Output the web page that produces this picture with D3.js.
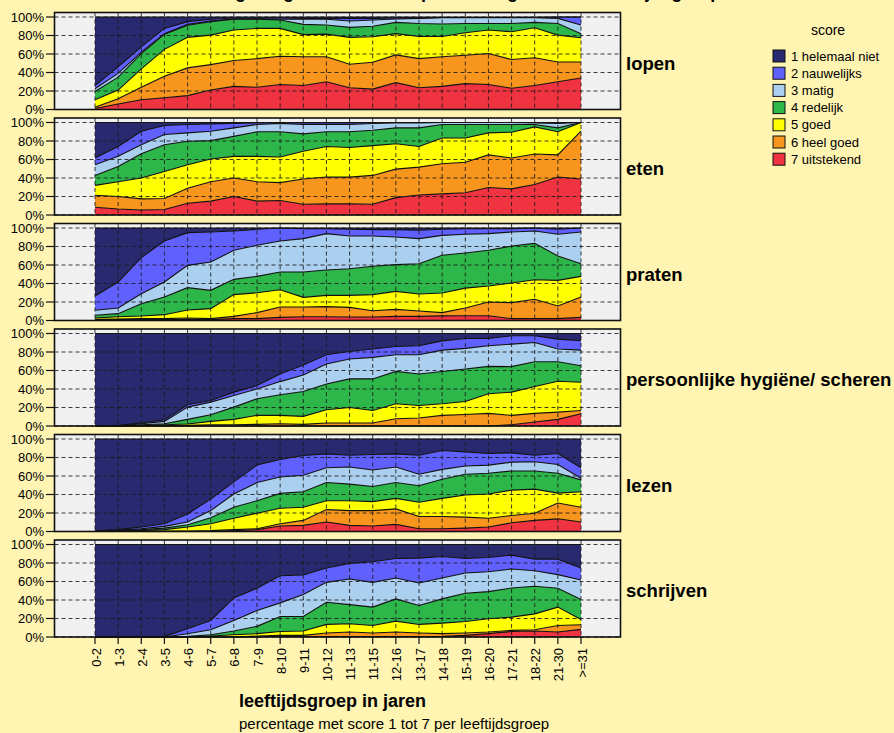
<!DOCTYPE html>
<meta charset="utf-8">
<style>
body { margin: 0; background: #fff4b2; }
text { font-family: "Liberation Sans", Arial, sans-serif; }
</style>
<body>
<svg width="894" height="733"></svg>
<script src="https://d3js.org/d3.v7.min.js"></script>
<script>

var ageGroups = ["0-2","1-3","2-4","3-5","4-6","5-7","6-8","7-9","8-10","9-11","10-12","11-13","11-15","12-16","13-17","14-18","15-19","16-20","17-21","18-22","21-30",">=31"];
var scoreLabels = ["1 helemaal niet","2 nauwelijks","3 matig","4 redelijk","5 goed","6 heel goed","7 uitstekend"];
var scoreColors = ["#29296f","#6060ff","#abcfee","#2db64a","#ffff00","#f7951d","#ef3340"];
var activities = ["lopen","eten","praten","persoonlijke hygiëne/ scheren","lezen","schrijven"];
var yTicks = [0,20,40,60,80,100];

// percentage per score (rows: score 1..7) per age group
var lopen = [
  [74,54,32.3,12.3,5,2.5,1,1,1,1.5,1.5,1.5,1.5,1,1,0.5,0.5,0.5,0.5,0.5,0,0],
  [3.5,7,5.7,5.7,3,1.9,1.2,1,1.5,1,1,2.9,1.8,1.2,0.5,0.2,0.2,0.2,0.2,0.2,1.5,8.7],
  [3,4,1.5,0.5,1,0.6,0.3,0.5,0.8,5.5,6.2,6.8,6.7,3.6,5.5,6.9,6.3,6.3,6.3,5.1,5.5,9.3],
  [9,14,16.5,16.5,13,14.6,11.5,9.8,9,11,9.8,10.8,11.4,12.2,14,13.4,10,7,9,5.8,12.6,4.5],
  [8,9.5,20,29,33,31.9,33,32.7,30.1,24,24.5,29,27.6,23,24,22,24.3,25.5,30,32.4,29,26.1],
  [1.5,5.5,13.5,23.3,30,27.5,28,31,30.6,31,27,25.5,29,30,31.5,32,30.7,33.5,31,30,21.4,17.4],
  [1,6,10.5,12.7,15,21,25,24,27,26,30,23.5,22,29,23.5,25,28,27,23,26,30,34]
];
var eten = [
  [38.4,26,9.4,3.3,2.2,1.5,1,0.4,0,0.4,0.4,0.4,0,0,0,0,0,0,0,0,0,0],
  [7.3,10.6,14.6,9.7,9,7.9,4.8,1.8,1,1.8,1.8,1.8,1,0.4,0.4,0,0,0,0,0.4,1,0],
  [11.5,10.9,9.7,11,9.1,10.2,9.2,7.8,9,10.1,7.8,7.8,7.3,5.4,5.4,2.2,2.2,2.2,2.2,1.8,4.8,0],
  [10.8,16.5,26.3,29,25.4,19.9,21.6,26.6,27.3,18.7,16,17,16.7,17.2,20.2,14.5,14.5,9,8.3,2.5,4.2,0],
  [10.6,16,22.6,29.2,25.3,24.5,23.4,27.4,27.7,30,33,32,32.2,27.4,22.2,27.9,26.3,23.8,27.9,29.3,25,9.4],
  [13.1,13.5,12,11.8,16.3,21,20,21,19.4,27.4,29,29,31.2,30.8,30.1,32.6,33,35.3,33.3,33,24,51.6],
  [8.3,6.5,5.4,6,12.7,15,20,15,15.6,11.6,12,12,11.6,18.8,21.7,22.8,24,29.7,28.3,33,41,39]
];
var praten = [
  [73.6,58.4,32,14,5,4.3,3.2,1.4,0,0.7,0.7,1.4,1.8,1.8,2.5,1.4,0.7,0.7,0.7,0,1.4,0],
  [15.4,28.1,39,44.4,35.4,32.5,20.9,17.3,14,10.8,5.4,7.2,6.8,7.9,9,6.6,6.1,5.4,3.6,3.2,5.4,4.3],
  [5.4,6.1,10.8,16.2,24.1,30.6,31.4,33.6,33.6,36.1,39.3,35.4,32.8,29.9,27.1,21.5,20.2,18,15.2,13.4,23.5,34.3],
  [2.9,3.3,13.3,19.1,24.1,19.8,16.5,17.7,19.1,27.4,27.4,28.8,30.6,28.9,32.8,40.8,38,38.6,40,39.4,26.3,13.7],
  [1.4,2.5,2.9,4.3,8.7,10.8,23.5,21.5,18.7,10.4,12.2,13,17.4,19.5,18.3,21.2,21.5,17.3,21.2,21.1,27.7,22.3],
  [0.3,0.6,1,1,1.7,1,2.5,6.5,11.2,10.6,11,10.4,6.8,7.5,5.8,3.5,8.3,14.8,17.3,20.9,13.7,22],
  [1,1,1,1,1,1,2,2,3.4,4,4,3.8,3.8,4.5,4.5,5,5.2,5.2,2,2,2,3.4]
];
var hygiene = [
  [99.5,99.3,96.8,93.2,77,72.4,63.4,56.3,43.7,34,23,19.4,16.8,14,13.3,8,5.4,5.4,2.5,2.5,6.1,7.9],
  [0.5,0.4,0.7,1.8,2.6,1.8,3.6,3.7,8.3,10.8,10,8.2,9,9,9.7,10,10.7,7.9,9,7.2,10.7,10.1],
  [0,0.3,1.1,2.5,13.2,13.6,12.6,10.6,14.3,17.9,21.5,21.5,23.3,18,20.7,23,22.3,22.2,24.3,20.8,13.7,16.8],
  [0,0,0.7,1.1,5,7.2,13.2,17.9,22.2,26.9,27.9,30.9,34.1,35,34.1,35,35.1,29.7,27.6,26.8,21.1,17.9],
  [0,0,0.7,1.4,1.5,3.6,5.8,9.7,9,8.6,14.4,16.8,13.6,16.1,13.6,12.5,14,21.2,25.1,29.1,33.4,30.5],
  [0,0,0,0,0.7,1.4,1.4,1.8,2.5,1.8,3.2,3.2,3.2,7.9,8.6,11.5,12.5,13.6,10.1,9.3,7.8,3.5],
  [0,0,0,0,0,0,0,0,0,0,0,0,0,0,0,0,0,0,1.4,4.3,7.2,13.3]
];
var lezen = [
  [99.5,98,95.2,91.6,81,65,46.4,28.2,22.1,17.8,16.1,17.5,16.8,16.1,17.5,12.5,13.9,15.7,15,17.5,15.7,31],
  [0.3,0.8,1.8,2.9,8.8,12.4,13.1,18.9,18.9,21.4,14.9,12.8,16.7,14.2,20.6,20.3,15.3,12.5,10,7.1,11.8,11.4],
  [0.2,0.3,1,1.8,2.9,7.8,14.3,19.6,17.8,17.8,16.1,18.5,17.8,16.8,12.5,10.7,8.9,8.9,9.6,10,9.6,1.8],
  [0,0.4,0.8,1.7,2.5,6.4,11.8,13.5,16.1,16.8,19.6,17.9,16.4,17.1,17.8,20.7,22.5,22.4,20.7,19.6,21.4,12.8],
  [0,0.2,0.7,1.5,4.3,7.5,12.4,16.8,16.7,14.2,9.6,10.7,9.7,11.4,15.4,19.6,23.9,26.1,27.4,26,10.7,16.8],
  [0,0.3,0.5,0.5,0.5,0.9,1.1,1,2.5,5.4,13.5,16,16.7,16.7,13.2,13.2,11.8,9.6,7.9,7.8,17.1,16],
  [0,0,0,0,0,0,0.9,2,5.9,6.6,10.2,6.6,5.9,7.7,3,3,3.7,4.8,9.4,12,13.7,10.2]
];
var schrijven = [
  [100,100,100,99.3,91,82.1,57.7,47.3,33.7,33,25.4,20.4,18.6,15.1,14.7,12.9,15.1,14,11.5,15.8,15.8,25.4],
  [0,0,0,0.7,5.4,10,24.4,24,29.4,21.1,15.5,16.9,22.3,21.1,26.9,23.3,15.7,15.4,15,12.5,16.8,13],
  [0,0,0,0,2.9,5.4,11.4,17.2,14.7,23.7,21.5,27.7,26.8,22.6,24.4,22.6,21.9,21.5,20.5,16.9,14.7,21.1],
  [0,0,0,0,0.7,1.5,4,7.9,16.2,15.7,24,20.7,19.8,24,20.4,26.2,30.5,29.4,31.5,29.8,20.4,21.5],
  [0,0,0,0,0,1,2.5,2.6,4.2,4.7,9.3,8.9,8.2,11.8,9.3,11.4,12.5,14.3,14.3,17.1,19.8,5.7],
  [0,0,0,0,0,0,0,1,0.8,1.3,3.8,4.9,3.8,4.9,3.8,2.9,2.5,1.8,1.2,1.4,7.1,5.1],
  [0,0,0,0,0,0,0,0,1,0.5,0.5,0.5,0.5,0.5,0.5,0.7,1.8,3.6,6,6.5,5.4,8.2]
];
var panelData = [lopen, eten, praten, hygiene, lezen, schrijven];

var svg = d3.select("svg");

var panelLeft = 54.5, panelRight = 620.5;
var x = d3.scalePoint().domain(ageGroups).range([95, 581]);

// title (mostly outside the picture)
svg.append("text")
    .attr("x", 45).attr("y", -2.5)
    .style("font-size", "18px").style("font-weight", "bold")
    .text("Zelfredzaamheid: hoe goed gaat het? score per vaardigheid naar leeftijdsgroep");

// stack with score 7 at the bottom
var keys = [6,5,4,3,2,1,0];

panelData.forEach(function(rows, p) {
  var base = 109.5 + p * 105.5;
  var y = d3.scaleLinear().domain([0, 100]).range([base, base - 92.5]);
  var top = base - 97;
  var g = svg.append("g");

  var table = ageGroups.map(function(a, i) {
    var o = {age: a};
    rows.forEach(function(r, s) { o[s] = r[i]; });
    return o;
  });
  var series = d3.stack().keys(keys)(table);

  g.append("rect")
      .attr("x", panelLeft).attr("y", top)
      .attr("width", panelRight - panelLeft).attr("height", base - top)
      .attr("fill", "#f0f0f0");

  var area = d3.area()
      .x(function(d) { return x(d.data.age); })
      .y0(function(d) { return y(d[0]); })
      .y1(function(d) { return y(Math.min(100, d[1])); });
  var line = d3.line()
      .x(function(d) { return x(d.data.age); })
      .y(function(d) { return y(Math.min(100, d[1])); });

  g.selectAll("path.layer")
    .data(series)
    .enter().append("path")
      .attr("class", "layer")
      .attr("d", area)
      .attr("fill", function(d) { return scoreColors[d.key]; });

  g.selectAll("path.edge")
    .data(series)
    .enter().append("path")
      .attr("class", "edge")
      .attr("d", line)
      .attr("fill", "none")
      .attr("stroke", "#111")
      .attr("stroke-width", 1.1);

  // dashed grid
  g.selectAll("line.hgrid")
    .data(yTicks)
    .enter().append("line")
      .attr("x1", panelLeft).attr("x2", panelRight)
      .attr("y1", function(d) { return y(d); })
      .attr("y2", function(d) { return y(d); })
      .attr("stroke", "#1a1a1a").attr("stroke-opacity", 0.85)
      .attr("stroke-dasharray", "4,3");
  g.selectAll("line.vgrid")
    .data(ageGroups)
    .enter().append("line")
      .attr("x1", function(d) { return x(d); })
      .attr("x2", function(d) { return x(d); })
      .attr("y1", top).attr("y2", base)
      .attr("stroke", "#1a1a1a").attr("stroke-opacity", 0.85)
      .attr("stroke-dasharray", "4,3");

  g.append("rect")
      .attr("x", panelLeft).attr("y", top)
      .attr("width", panelRight - panelLeft).attr("height", base - top)
      .attr("fill", "none").attr("stroke", "#111").attr("stroke-width", 1.6);

  // y axis
  var yAxis = g.append("g");
  yAxis.selectAll("line")
    .data(yTicks)
    .enter().append("line")
      .attr("x1", 46).attr("x2", panelLeft)
      .attr("y1", function(d) { return y(d); })
      .attr("y2", function(d) { return y(d); })
      .attr("stroke", "#111").attr("stroke-width", 1.2);
  yAxis.selectAll("text")
    .data(yTicks)
    .enter().append("text")
      .attr("x", 44).attr("y", function(d) { return y(d); })
      .attr("dy", "0.36em")
      .attr("text-anchor", "end")
      .style("font-size", "13px")
      .text(function(d) { return d + "%"; });

  g.append("text")
      .attr("x", 626).attr("y", base - 46)
      .attr("dy", "0.35em")
      .style("font-size", "18.5px").style("font-weight", "bold")
      .text(activities[p]);

  if (p === panelData.length - 1) {
    var xAxis = g.append("g");
    xAxis.selectAll("line")
      .data(ageGroups)
      .enter().append("line")
        .attr("x1", function(d) { return x(d); })
        .attr("x2", function(d) { return x(d); })
        .attr("y1", base).attr("y2", base + 7)
        .attr("stroke", "#111").attr("stroke-width", 1.2);
    xAxis.selectAll("text")
      .data(ageGroups)
      .enter().append("text")
        .attr("transform", function(d) { return "translate(" + (x(d) + 1) + "," + (base + 11) + ") rotate(-90)"; })
        .attr("dy", "0.35em")
        .attr("text-anchor", "end")
        .style("font-size", "13px")
        .text(function(d) { return d; });
  }
});

// axis titles
svg.append("text")
    .attr("x", 239).attr("y", 707)
    .style("font-size", "18px").style("font-weight", "bold")
    .text("leeftijdsgroep in jaren");
svg.append("text")
    .attr("x", 239).attr("y", 729)
    .style("font-size", "15px")
    .text("percentage met score 1 tot 7 per leeftijdsgroep");

// legend
var legend = svg.append("g");
legend.append("text")
    .attr("x", 828).attr("y", 35)
    .attr("text-anchor", "middle")
    .style("font-size", "14px")
    .text("score");
var item = legend.selectAll("g.item")
  .data(scoreLabels)
  .enter().append("g")
    .attr("class", "item")
    .attr("transform", function(d, i) { return "translate(773," + (50 + i * 17.2) + ")"; });
item.append("rect")
    .attr("width", 12).attr("height", 12)
    .attr("fill", function(d, i) { return scoreColors[i]; })
    .attr("stroke", "#111").attr("stroke-width", 1);
item.append("text")
    .attr("x", 18).attr("y", 6)
    .attr("dy", "0.36em")
    .style("font-size", "13px")
    .text(function(d) { return d; });

</script>
</body>
</html>
